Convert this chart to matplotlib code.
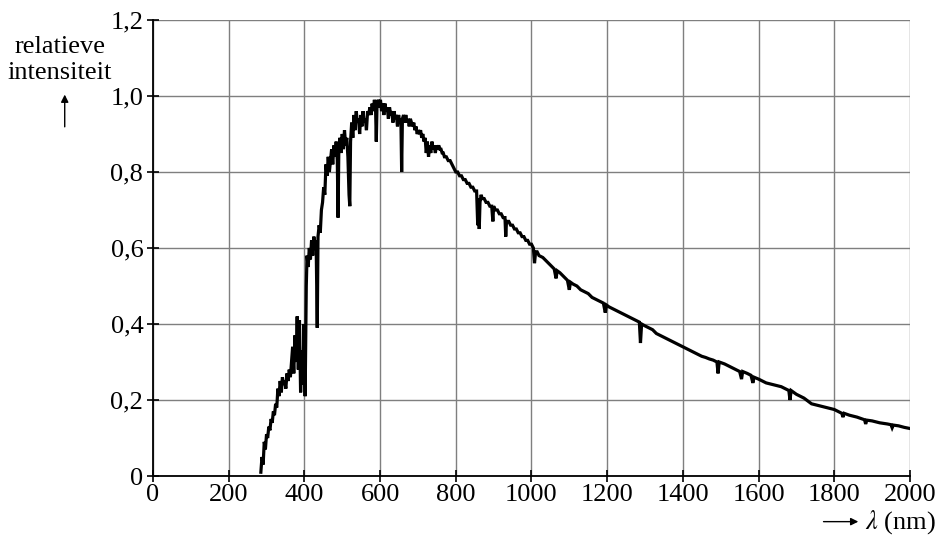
import matplotlib

matplotlib.use("Agg")
import matplotlib.pyplot as plt

plt.rcParams["font.family"] = ["Liberation Serif", "DejaVu Serif"]
plt.rcParams["mathtext.fontset"] = "stix"

# spectrum: wavelength (nm) and relative intensity
wavelength = [
    285, 288, 291, 294, 297, 300, 303, 306, 309, 312, 315, 318, 321, 324, 327,
    330, 333, 336, 339, 342, 345, 348, 351, 354, 357, 360, 363, 366, 369, 372,
    375, 378, 381, 384, 387, 390, 393, 396, 399, 402, 405, 407, 410, 413, 416,
    419, 422, 425, 428, 431, 434, 436, 439, 442, 445, 448, 451, 454, 457, 460,
    463, 466, 469, 472, 475, 478, 481, 484, 487, 489, 491, 494, 497, 500, 503,
    506, 509, 512, 515, 518, 520, 522, 525, 528, 531, 534, 537, 540, 543, 546,
    549, 552, 555, 558, 561, 564, 567, 570, 573, 576, 579, 582, 585, 588, 590,
    592, 595, 598, 601, 604, 607, 610, 613, 616, 619, 622, 625, 628, 631, 634,
    637, 640, 643, 646, 649, 652, 655, 657, 659, 662, 665, 668, 671, 674, 677,
    680, 683, 686, 689, 692, 695, 698, 701, 704, 707, 710, 713, 716, 719, 722,
    725, 728, 731, 734, 737, 740, 743, 746, 749, 752, 755, 758, 761, 764, 767,
    770, 775, 780, 785, 790, 795, 800, 805, 810, 815, 820, 825, 830, 835, 840,
    845, 850, 855, 858, 860, 862, 864, 867, 870, 875, 880, 885, 890, 895, 898,
    900, 905, 910, 915, 920, 925, 930, 932, 934, 940, 945, 950, 955, 960, 965,
    970, 975, 980, 985, 990, 995, 1000, 1005, 1008, 1011, 1015, 1020, 1030, 1040, 1050,
    1060, 1065, 1068, 1075, 1085, 1095, 1100, 1103, 1110, 1120, 1130, 1140, 1150, 1160, 1170,
    1180, 1190, 1195, 1198, 1205, 1215, 1225, 1235, 1245, 1255, 1265, 1275, 1285, 1288, 1291,
    1300, 1310, 1320, 1330, 1340, 1350, 1360, 1370, 1380, 1390, 1400, 1410, 1420, 1430, 1440,
    1450, 1460, 1470, 1480, 1490, 1493, 1496, 1510, 1520, 1530, 1540, 1550, 1555, 1558, 1570,
    1580, 1585, 1588, 1600, 1610, 1620, 1640, 1660, 1680, 1683, 1686, 1700, 1720, 1740, 1760,
    1780, 1800, 1820, 1823, 1826, 1840, 1860, 1880, 1883, 1886, 1900, 1920, 1940, 1950, 1953,
    1956, 1970, 1985, 2000,
]
intensity = [
    0.01, 0.05, 0.03, 0.09, 0.07, 0.11, 0.10, 0.13, 0.12, 0.15, 0.14, 0.17, 0.16, 0.19, 0.18,
    0.23, 0.21, 0.25, 0.22, 0.26, 0.24, 0.25, 0.23, 0.27, 0.25, 0.28, 0.26, 0.30, 0.34, 0.27,
    0.37, 0.30, 0.42, 0.28, 0.41, 0.22, 0.33, 0.24, 0.40, 0.21, 0.50, 0.58, 0.55, 0.60, 0.57,
    0.62, 0.58, 0.63, 0.60, 0.62, 0.39, 0.63, 0.66, 0.64, 0.70, 0.72, 0.76, 0.74, 0.82, 0.79,
    0.84, 0.80, 0.83, 0.86, 0.82, 0.87, 0.84, 0.88, 0.83, 0.68, 0.86, 0.89, 0.85, 0.90, 0.86,
    0.91, 0.87, 0.89, 0.84, 0.74, 0.71, 0.88, 0.93, 0.89, 0.95, 0.91, 0.96, 0.93, 0.94, 0.90,
    0.95, 0.92, 0.96, 0.93, 0.94, 0.91, 0.96, 0.95, 0.97, 0.95, 0.98, 0.96, 0.99, 0.97, 0.88,
    0.98, 0.99, 0.97, 0.99, 0.96, 0.98, 0.95, 0.98, 0.96, 0.97, 0.94, 0.97, 0.95, 0.96, 0.93,
    0.96, 0.94, 0.95, 0.92, 0.95, 0.93, 0.94, 0.80, 0.94, 0.95, 0.93, 0.95, 0.93, 0.94, 0.92,
    0.94, 0.93, 0.92, 0.93, 0.91, 0.92, 0.90, 0.91, 0.90, 0.91, 0.89, 0.90, 0.88, 0.89, 0.85,
    0.88, 0.84, 0.87, 0.85, 0.88, 0.86, 0.87, 0.85, 0.87, 0.86, 0.87, 0.86, 0.86, 0.85, 0.85,
    0.84, 0.84, 0.83, 0.83, 0.82, 0.81, 0.80, 0.80, 0.79, 0.79, 0.78, 0.78, 0.77, 0.77, 0.76,
    0.76, 0.75, 0.75, 0.66, 0.73, 0.65, 0.72, 0.74, 0.73, 0.73, 0.72, 0.72, 0.71, 0.71, 0.67,
    0.71, 0.70, 0.70, 0.69, 0.69, 0.68, 0.68, 0.63, 0.67, 0.67, 0.66, 0.66, 0.65, 0.65, 0.64,
    0.64, 0.63, 0.63, 0.62, 0.62, 0.61, 0.61, 0.60, 0.56, 0.59, 0.59, 0.58, 0.575, 0.565, 0.555,
    0.545, 0.52, 0.54, 0.535, 0.525, 0.515, 0.49, 0.51, 0.505, 0.50, 0.49, 0.485, 0.48, 0.47, 0.465,
    0.46, 0.455, 0.43, 0.45, 0.445, 0.44, 0.435, 0.43, 0.425, 0.42, 0.415, 0.41, 0.405, 0.35, 0.40,
    0.395, 0.39, 0.385, 0.375, 0.37, 0.365, 0.36, 0.355, 0.35, 0.345, 0.34, 0.335, 0.33, 0.325, 0.32,
    0.315, 0.312, 0.308, 0.305, 0.30, 0.27, 0.30, 0.295, 0.29, 0.285, 0.28, 0.275, 0.255, 0.275, 0.27,
    0.265, 0.245, 0.26, 0.255, 0.25, 0.245, 0.24, 0.235, 0.225, 0.20, 0.225, 0.215, 0.205, 0.19, 0.185,
    0.18, 0.175, 0.165, 0.155, 0.165, 0.16, 0.155, 0.148, 0.137, 0.147, 0.145, 0.14, 0.137, 0.135, 0.127,
    0.134, 0.132, 0.128, 0.125,
]

x_ticks = [0, 200, 400, 600, 800, 1000, 1200, 1400, 1600, 1800, 2000]
y_ticks = [0, 0.2, 0.4, 0.6, 0.8, 1.0, 1.2]
y_labels = ["0", "0,2", "0,4", "0,6", "0,8", "1,0", "1,2"]

fig = plt.figure(figsize=(9.38, 5.40), dpi=100)
ax = fig.add_axes([0.1631, 0.1185, 0.8070, 0.8445])

ax.plot(wavelength, intensity, color="black", lw=2.3, solid_joinstyle="miter")

ax.set_xlim(0, 2000)
ax.set_ylim(0, 1.2)
ax.set_xticks(x_ticks)
ax.set_xticklabels([str(t) for t in x_ticks])
ax.set_yticks(y_ticks)
ax.set_yticklabels(y_labels)
ax.grid(True, color="#7f7f7f", lw=1.0)
ax.set_axisbelow(True)
for side in ("top", "right"):
    ax.spines[side].set_visible(False)
for side in ("left", "bottom"):
    ax.spines[side].set_linewidth(1.3)
ax.tick_params(direction="inout", length=8, width=1.2, labelsize=19, pad=2)
ax.tick_params(axis="y", pad=3)

fig.text(0.064, 0.913, "relatieve", fontsize=19, ha="center", va="center")
fig.text(0.064, 0.865, "intensiteit", fontsize=19, ha="center", va="center")
fig.add_artist(matplotlib.patches.FancyArrowPatch(
    (0.069, 0.760), (0.069, 0.830), transform=fig.transFigure,
    arrowstyle="-|>", mutation_scale=11, lw=1.0, color="black"))

fig.add_artist(matplotlib.patches.FancyArrowPatch(
    (0.875, 0.034), (0.918, 0.034), transform=fig.transFigure,
    arrowstyle="-|>", mutation_scale=11, lw=1.0, color="black"))
fig.text(0.998, 0.034, r"$\lambda$ (nm)", fontsize=19, ha="right", va="center")

fig.savefig("out.png", dpi=100)
